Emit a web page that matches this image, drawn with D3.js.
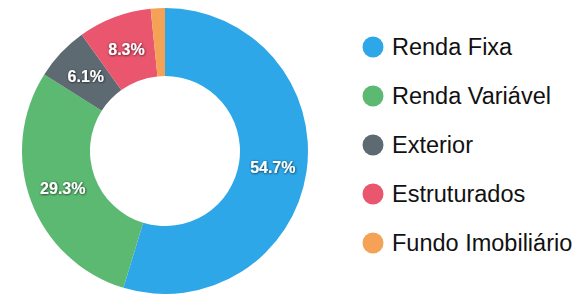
<!DOCTYPE html>
<html>
<head>
<meta charset="utf-8">
<script src="https://cdn.jsdelivr.net/npm/d3@7"></script>
<style>
  body { margin: 0; background: #fff; }
</style>
</head>
<body>
<script>
"use strict"
const w = 579;
const h = 296;

const categories = ['Renda Fixa', 'Renda Variável', 'Exterior', 'Estruturados', 'Fundo Imobiliário'];
const values = [54.7, 29.3, 6.1, 8.3, 1.6];
const colors = ['#2ea7e8', '#5cb972', '#5e6a72', '#e9566e', '#f5a257'];

const cx = 165, cy = 151;
const outerR = 143, innerR = 75;

const svg = d3.select('body')
    .append('svg')
    .attr('width', w)
    .attr('height', h);

const defs = svg.append('defs');
const shadow = defs.append('filter').attr('id', 'shadow')
    .attr('x', '-20%').attr('y', '-40%').attr('width', '140%').attr('height', '180%');
shadow.append('feDropShadow')
    .attr('dx', 0.5).attr('dy', 0.5)
    .attr('stdDeviation', 1)
    .attr('flood-color', '#000')
    .attr('flood-opacity', 0.8);

const color = d3.scaleOrdinal().domain(categories).range(colors);

const pie = d3.pie().sort(null).value(d => d.value);
const data = pie(categories.map((c, i) => ({ name: c, value: values[i] })));

const arc = d3.arc().innerRadius(innerR).outerRadius(outerR);
const labelArc = d3.arc().innerRadius((innerR + outerR) / 2).outerRadius((innerR + outerR) / 2);

const g = svg.append('g').attr('transform', 'translate(' + cx + ',' + cy + ')');

g.selectAll('path')
    .data(data)
    .enter()
    .append('path')
    .attr('d', arc)
    .attr('fill', d => color(d.data.name));

// only slices big enough get a label
g.selectAll('text')
    .data(data.filter(d => d.data.value > 5))
    .enter()
    .append('text')
    .attr('transform', d => 'translate(' + labelArc.centroid(d) + ')')
    .attr('text-anchor', 'middle')
    .attr('dy', '0.35em')
    .attr('font-family', 'Liberation Sans, Arial, sans-serif')
    .attr('font-weight', 'bold')
    .attr('font-size', 16)
    .attr('fill', '#fff')
    .attr('filter', 'url(#shadow)')
    .text(d => d.data.value.toFixed(1) + '%');

// legend
const legend = svg.append('g').attr('transform', 'translate(373,47)');
const item = legend.selectAll('g')
    .data(categories)
    .enter()
    .append('g')
    .attr('transform', (d, i) => 'translate(0,' + i * 49 + ')');

item.append('circle')
    .attr('r', 10.5)
    .attr('fill', d => color(d));

item.append('text')
    .attr('x', 19)
    .attr('dy', '0.35em')
    .attr('font-family', 'Liberation Sans, Arial, sans-serif')
    .attr('font-size', 23.5)
    .attr('fill', '#111')
    .text(d => d);
</script>
</body>
</html>
